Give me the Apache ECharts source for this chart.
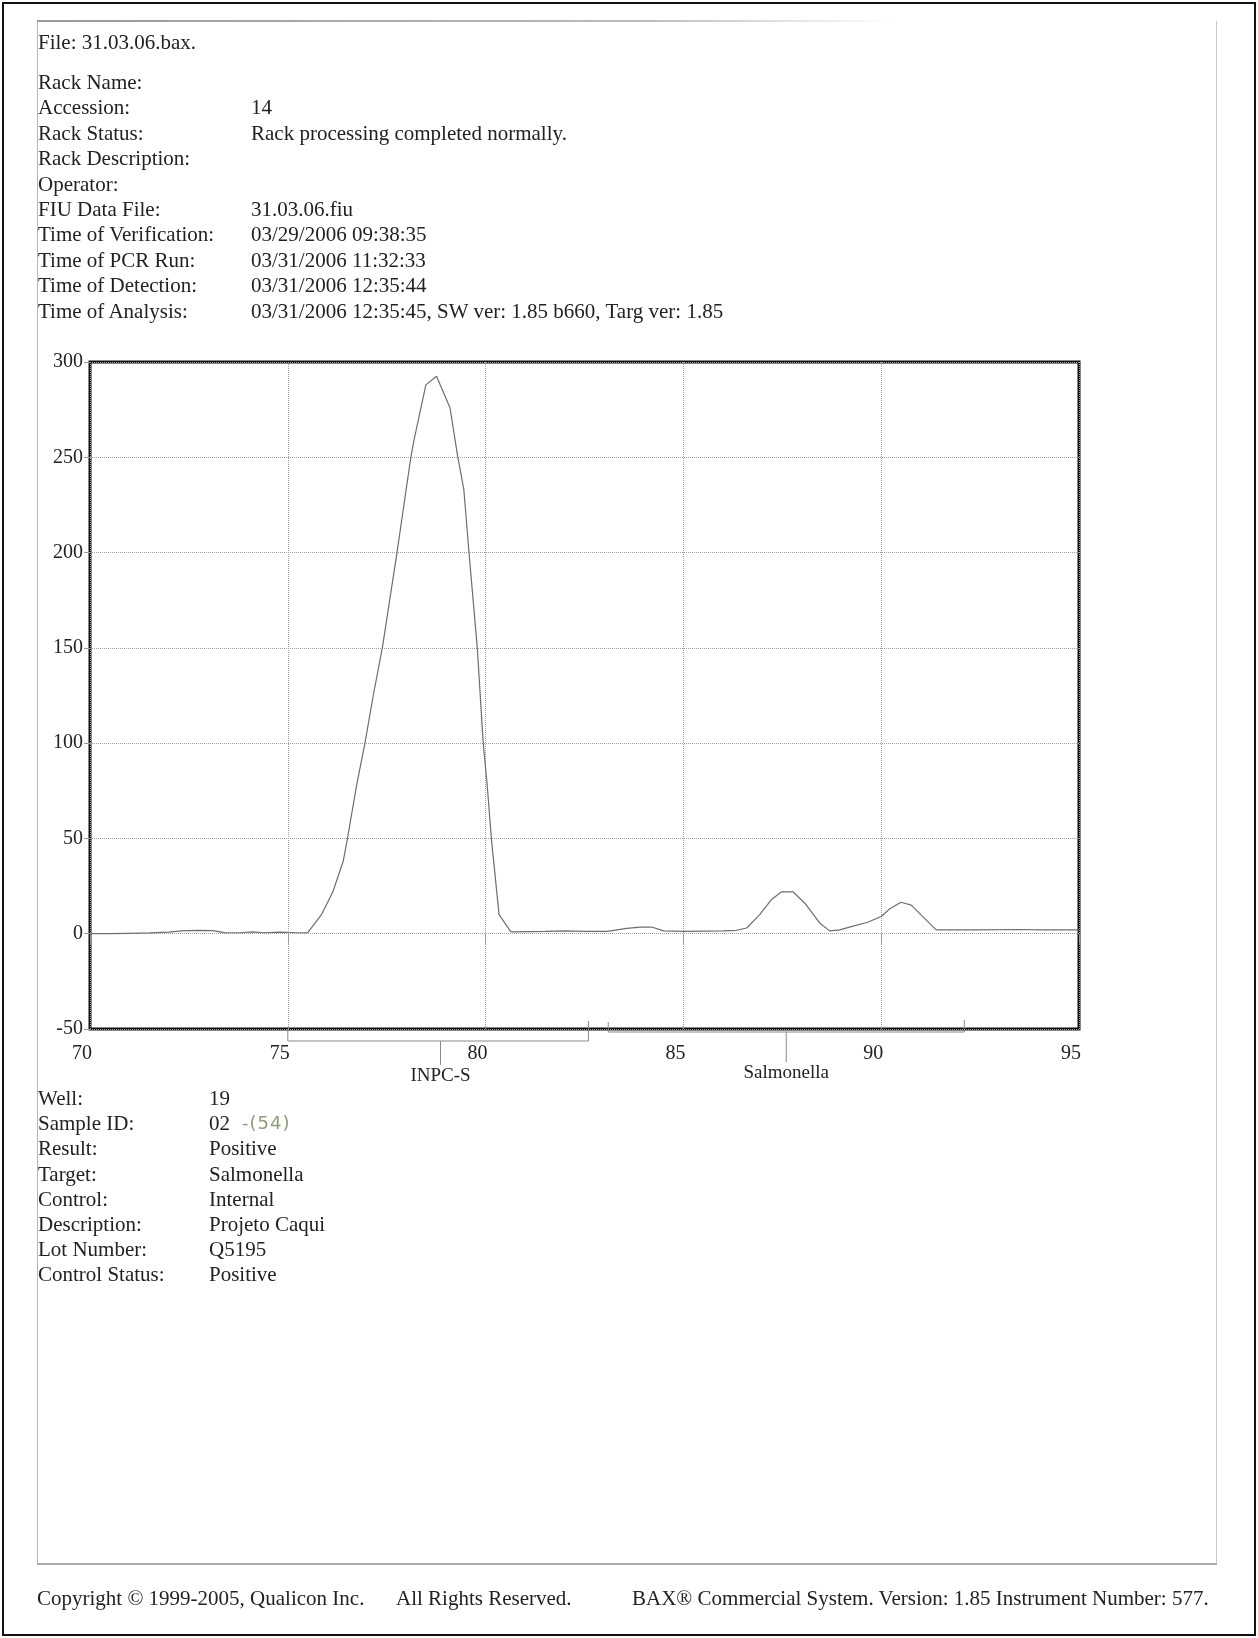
<!DOCTYPE html>
<html>
<head>
<meta charset="utf-8">
<script src="https://cdn.jsdelivr.net/npm/echarts@6/dist/echarts.min.js"></script>
<style>
  html, body { margin: 0; padding: 0; background: #fff; }
  #page { position: relative; width: 1258px; height: 1638px; overflow: hidden; background: #fff; }
  #chart { position: absolute; left: 0; top: 0; width: 1258px; height: 1638px; }
  .t { position: absolute; font-family: "Liberation Serif", "DejaVu Serif", serif; font-size: 21px; color: #222; white-space: nowrap; line-height: 24px; }
  .hand { font-family: "DejaVu Sans", sans-serif; color: #8e9c7c; font-size: 18px; letter-spacing: 1px; }
  .frame { position: absolute; }
</style>
</head>
<body>
<div id="page">
  <div id="chart"></div>
</div>
<script>
// ---------- data ----------
const temps = [70.0,70.5,71.0,71.5,72.0,72.3,72.7,73.1,73.4,73.8,74.1,74.4,74.8,75.2,75.5,
  75.85,76.14,76.40,76.50,76.74,76.95,77.16,77.39,77.76,78.11,78.19,78.49,78.76,79.10,79.29,
  79.45,79.58,79.79,79.94,80.04,80.15,80.34,80.64,81.5,82.0,82.5,83.07,83.57,83.91,84.2,84.5,
  85.0,86.0,86.34,86.6,86.93,87.23,87.48,87.77,88.07,88.45,88.70,88.95,89.29,89.66,90.0,90.21,
  90.5,90.76,91.05,91.39,92.4,93.5,94.0,95.0];
const signal = [0.0,0.0,0.2,0.4,0.8,1.5,1.8,1.6,0.6,0.5,1.0,0.5,0.8,0.5,0.5,
  10,22,38,49,78,100,125,150,200,250,259,288,292.5,276,251,
  233,200,150,100,78,49,10,1.0,1.2,1.5,1.2,1.2,2.8,3.5,3.5,1.5,
  1.2,1.5,1.8,3,10,18,22,22,16,5.5,1.5,2,4,6,9,13,
  16.5,15,9,2,2,2.2,2,2];
const xTicks = [70,75,80,85,90,95];
const yTicks = [-50,0,50,100,150,200,250,300];
const bracketNames = ['INPC-S','Salmonella'];
const bracketFrom = [75.0, 83.1];
const bracketTo = [82.6, 92.1];
const bracketCenter = [78.86, 87.6];

const headerLabels = ['Rack Name:','Accession:','Rack Status:','Rack Description:','Operator:','FIU Data File:',
  'Time of Verification:','Time of PCR Run:','Time of Detection:','Time of Analysis:'];
const headerValues = ['','14','Rack processing completed normally.','','','31.03.06.fiu',
  '03/29/2006 09:38:35','03/31/2006 11:32:33','03/31/2006 12:35:44',
  '03/31/2006 12:35:45, SW ver: 1.85 b660, Targ ver: 1.85'];
const footLabels = ['Well:','Sample ID:','Result:','Target:','Control:','Description:','Lot Number:','Control Status:'];
const footValues = ['19','02','Positive','Salmonella','Internal','Projeto Caqui','Q5195','Positive'];

// ---------- page text ----------
const page = document.getElementById('page');
function addText(txt, x, yc, cls) {
  const d = document.createElement('div');
  d.className = 't' + (cls ? ' ' + cls : '');
  d.textContent = txt;
  d.style.left = x + 'px';
  d.style.top = (yc - 12) + 'px';
  page.appendChild(d);
  return d;
}
function addBox(l, t, w, h, css) {
  const d = document.createElement('div');
  d.className = 'frame';
  d.style.left = l + 'px'; d.style.top = t + 'px';
  d.style.width = w + 'px'; d.style.height = h + 'px';
  Object.assign(d.style, css);
  page.appendChild(d);
}
// outer border
addBox(2, 2, 1250, 1630, {border: '2px solid #111'});
// inner frame
addBox(37, 21, 1, 1543, {background: '#b5b5b5'});
addBox(1216, 21, 1, 1543, {background: '#c8c8c8'});
addBox(37, 20, 860, 2, {background: 'linear-gradient(to right, #999, #bbb 70%, rgba(200,200,200,0))'});
addBox(37, 1563, 1180, 2, {background: '#aaa'});

addText('File: 31.03.06.bax.', 38, 42);
headerLabels.forEach((l, i) => {
  const y = 82 + 25.4 * i;
  addText(l, 38, y);
  if (headerValues[i]) addText(headerValues[i], 251, y);
});
footLabels.forEach((l, i) => {
  const y = 1098 + 25.2 * i;
  addText(l, 38, y);
  addText(footValues[i], 209, y);
});
addText('-(54)', 242, 1098 + 25.2, 'hand');
addText('Copyright \u00a9 1999-2005, Qualicon Inc.', 37, 1598);
addText('All Rights Reserved.', 396, 1598);
addText('BAX\u00ae Commercial System. Version: 1.85 Instrument Number: 577.', 632, 1598);

// ---------- chart ----------
const chart = echarts.init(document.getElementById('chart'), null, {renderer: 'canvas'});
const lineData = temps.map((t, i) => [t, signal[i]]);
const bracketData = bracketNames.map((n, i) => ({name: n, value: [bracketCenter[i], -50, bracketFrom[i], bracketTo[i], i]}));
const serif = '"Liberation Serif", "DejaVu Serif", serif';

chart.setOption({
  animation: false,
  grid: {left: 90, top: 362, width: 989, height: 667, show: true, borderColor: '#111', borderWidth: 3, backgroundColor: 'transparent'},
  xAxis: {
    type: 'value', min: 70, max: 95, interval: 5,
    axisLine: {show: false},
    axisTick: {show: true, length: 10, lineStyle: {color: '#999', width: 1}},
    axisLabel: {color: '#222', fontFamily: serif, fontSize: 20, margin: 15, padding: [0, 16, 0, 0]},
    splitLine: {show: true, lineStyle: {color: '#a0a0a0', type: 'dotted', width: 1}}
  },
  yAxis: {
    type: 'value', min: -50, max: 300, interval: 50,
    axisLine: {show: false},
    axisTick: {show: true, length: 6, lineStyle: {color: '#999', width: 1}},
    axisLabel: {color: '#222', fontFamily: serif, fontSize: 20, margin: 7, padding: [8, 0, 0, 0]},
    splitLine: {show: true, lineStyle: {color: '#a0a0a0', type: 'dotted', width: 1}}
  },
  series: [
    {
      type: 'line', data: lineData, showSymbol: false, smooth: false,
      lineStyle: {color: '#6e6e6e', width: 1.2}, z: 3
    },
    {
      type: 'custom', data: bracketData, clip: false, z: 4,
      encode: {x: 0, y: 1},
      renderItem: function (params, api) {
        const idx = api.value(4);
        const c = api.coord([api.value(0), -50]);
        const l = api.coord([api.value(2), -50]);
        const r = api.coord([api.value(3), -50]);
        const base = c[1];
        const dy = idx === 0 ? 12 : 3;
        const lUp = idx === 0 ? 0 : -7;
        const rUp = idx === 0 ? -8 : -9;
        const tickLen = idx === 0 ? 24 : 30;
        const style = {stroke: '#8a8a8a', lineWidth: 1, fill: null};
        return {
          type: 'group',
          children: [
            {type: 'polyline', shape: {points: [[l[0], base + lUp], [l[0], base + dy], [r[0], base + dy], [r[0], base + rUp]]}, style: style},
            {type: 'line', shape: {x1: c[0], y1: base + dy, x2: c[0], y2: base + dy + tickLen}, style: style},
            {type: 'text', style: {text: bracketNames[idx], x: c[0], y: base + dy + tickLen + 2, align: 'center', verticalAlign: 'top', fill: '#222', font: '19px ' + serif}}
          ]
        };
      }
    }
  ]
});
</script>
</body>
</html>
